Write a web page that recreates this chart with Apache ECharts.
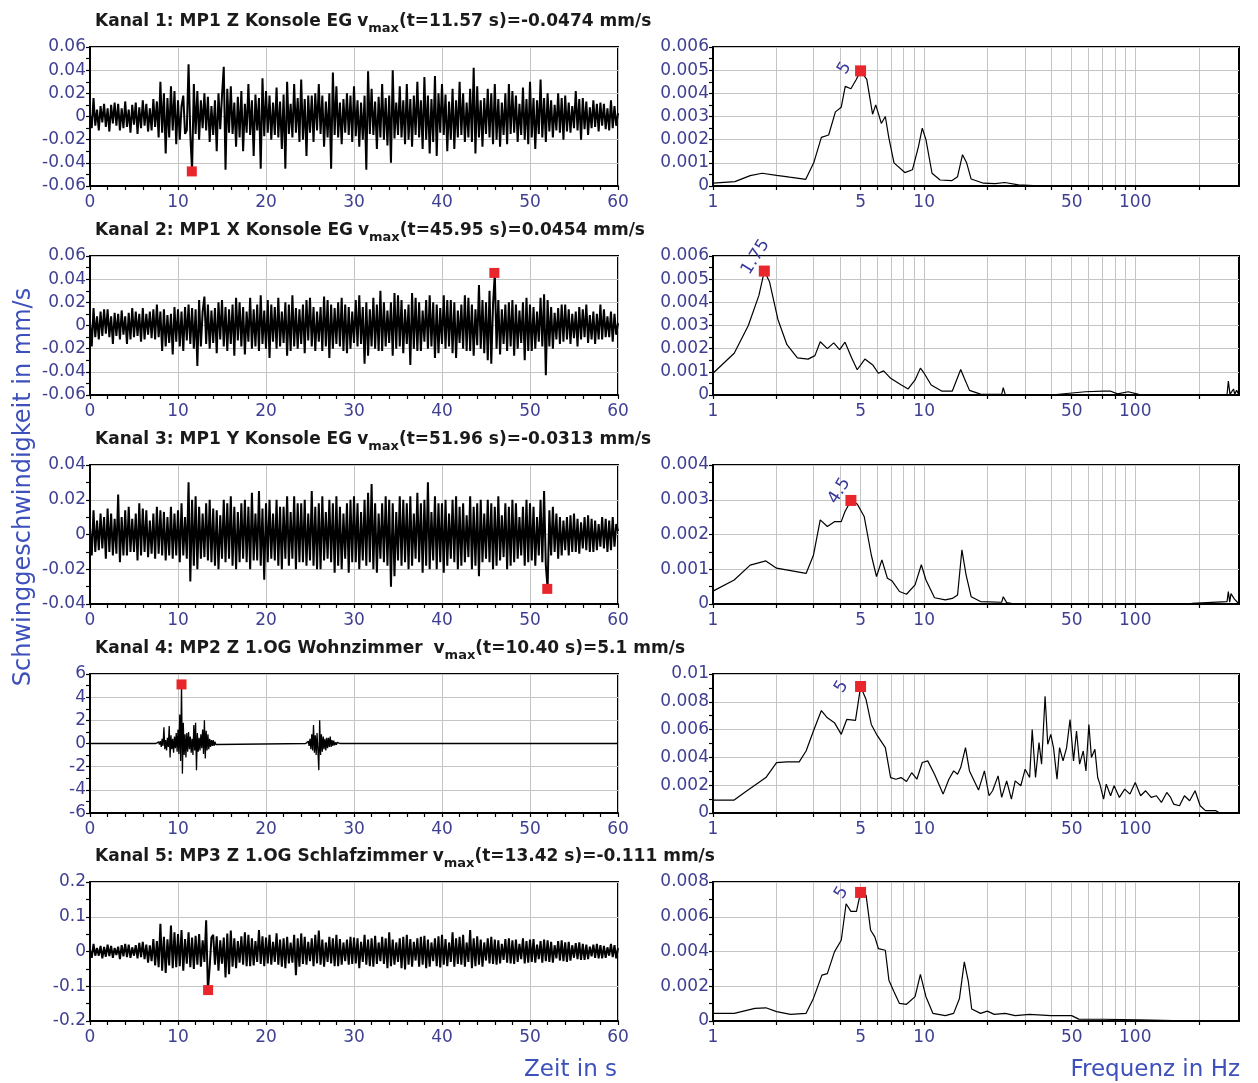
<!DOCTYPE html>
<html><head><meta charset="utf-8">
<script src="https://cdn.jsdelivr.net/npm/echarts@6/dist/echarts.min.js"></script>
<style>html,body{margin:0;padding:0;background:#fff}#c{width:1258px;height:1083px}</style>
</head><body><div id="c"></div>
<script>
// ---------- DATA ----------
const timeStep = 0.2; // s between samples of the time records (channels 1,2,3,5)
// Kanal 1 (µm/s), 5 samples per second, t = 0 … 60 s
const ch1_um = [2,-10,16,-8,6, -12,9,-5,11,-9, 7,-13,10,-6,12, -8,11,-12,7,-10, 13,-9,6,-14,10, -7,12,-15,8,-10, 14,-8,11,-13,7, -12,15,-9,13,-18, 30,-14,20,-32,16, -18,26,-12,22,-24, 14,-20,9,18,-15, -12,45,-16,-47,28, -15,22,-20,14,-10, 20,-12,17,-22,9, -16,14,-30,20,-11, 18,43,-46,24,-14, 26,-15,12,-26,17, -18,22,-30,11,-14, 28,-16,14,-34,19, -12,16,-45,33,-17, 22,-14,18,-20,12, -16,25,-18,13,-28, 19,-45,30,-15,11, -18,28,-14,16,-22, 32,-20,15,-34,18, -14,18,-22,20,-12, 28,-15,18,-26,13, -18,20,-45,38,-16, 26,-18,12,-24,15, -14,20,-16,18,-22, 26,-17,14,-26,12, -20,18,-46,39,-15, 24,-16,13,-28,17, -18,28,-20,16,-25, 18,-40,40,-19,12, -16,26,-18,14,-24, 28,-20,15,-26,18, -16,30,-18,14,-28, 34,-20,18,-32,15, -22,35,-34,20,-14, 28,-16,19,-30,13, -20,24,-28,14,-18, 30,-16,20,-22,12, -18,24,-22,42,-32, 26,-18,14,-26,16, -15,24,-18,20,-24, 28,-20,15,-26,12, -16,20,-24,28,-15, 22,-14,18,-22,11, -16,25,-20,15,-24, 30,-18,16,-28,14, -15,32,-18,16,-22, 20,-13,14,-18,10, -12,20,-14,16,-20, 18,-13,12,-14,9, -10,22,-12,15,-20, 16,-11,13,-16,8, -10,14,-9,11,-13, 12,-8,11,-11,7, -12,14,-10,9,-8, 3];
// Kanal 2 (µm/s)
const ch2_um = [3,-18,15,-10,8, -12,12,-9,14,-7, 14,-10,8,-16,11, -9,10,-12,13,-8, 8,-16,11,-12,15, -10,12,-9,10,-14, 15,-12,10,-8,12, -11,14,-12,18,-10, 12,-22,14,-18,9, -15,10,-25,16,-14, 14,-18,12,-22,16, -13,18,-16,15,-20, 14,-35,22,-18,12, 25,-16,18,-20,13, -15,15,-24,20,-12, 22,-18,16,-22,14, -16,18,-26,24,-13, 20,-18,16,-25,12, -14,24,-20,14,-18, 18,-22,26,-16,13, -20,22,-28,18,-14, 16,-20,24,-18,12, -15,20,-26,18,-22, 26,-18,15,-20,14, -16,18,-24,22,-13, 24,-18,16,-22,12, -14,16,-22,25,-18, 22,-28,18,-20,15, -16,20,-18,24,-22, 18,-24,16,-20,12, -15,22,-18,26,-16, 16,-33,20,-26,14, -18,24,-20,18,-22, 30,-22,20,-18,13, -15,20,-26,28,-20, 26,-18,22,-24,14, -16,18,-34,28,-20, 24,-22,20,-22,13, -14,22,-20,26,-18, 20,-28,18,-24,15, -16,26,-20,22,-18, 22,-24,20,-28,13, -15,18,-20,26,-22, 24,-22,18,-26,14, -17,35,-20,22,-24, 20,-30,30,-33,18, 45,-20,22,-25,14, -16,18,-22,20,-18, 22,-26,18,-20,13, -15,20,-30,24,-22, 18,-22,16,-20,12, -14,24,-18,27,-43, 22,-18,16,-20,11, -12,15,-16,18,-14, 18,-12,14,-16,10, -11,12,-18,16,-12, 14,-10,18,-15,9, -12,12,-16,10,-12, 18,-12,14,-10,8, -10,12,-14,10,-8, 2];
// Kanal 3 (µm/s)
const ch3_um = [4,-12,14,-10,8, -9,12,-8,10,-14, 15,-10,12,-12,9, -11,23,-16,10,-12, 14,-12,16,-10,9, -10,12,-15,18,-12, 15,-10,14,-13,8, -11,12,-14,16,-11, 14,-12,13,-15,10, -12,16,-14,12,-12, 14,-16,18,-12,10, -14,30,-27,20,-18, 22,-20,16,-14,12, -13,18,-15,20,-16, 15,-18,14,-20,11, -14,20,-16,18,-14, 22,-18,16,-20,13, -16,18,-14,20,-16, 16,-20,24,-15,12, -15,25,-18,15,-26, 18,-16,20,-14,12, -15,20,-18,16,-20, 16,-14,22,-18,13, -14,22,-20,18,-16, 18,-16,20,-18,12, -15,25,-18,16,-20, 18,-20,22,-15,13, -14,20,-16,18,-22, 22,-18,16,-20,12, -14,18,-22,20,-16, 22,-16,18,-20,13, -15,20,-18,24,-16, 29,-20,18,-22,12, -14,18,-16,22,-18, 20,-30,18,-24,13, -15,22,-18,20,-16, 18,-20,22,-18,12, -14,24,-16,18,-22, 20,-18,30,-20,13, -15,22,-20,18,-16, 18,-22,20,-18,12, -14,20,-16,22,-20, 16,-18,18,-16,11, -13,22,-20,16,-18, 18,-24,20,-16,12, -14,20,-16,18,-20, 16,-18,22,-15,11, -13,18,-20,16,-18, 20,-16,18,-14,10, -12,16,-18,20,-16, 18,-15,16,-18,10, -12,20,-16,25,-18, -31,14,-12,16,-10, 12,-14,10,-12,8, -9,10,-12,11,-10, 12,-10,9,-11,7, -8,10,-9,11,-10, 9,-10,8,-9,6, -7,10,-8,9,-10, 8,-9,10,-7,6, 2];
// Kanal 4 (mm/s): the record is zero except for two bursts sampled every 0.1 s
const ch4Step = 0.1;
const ch4Burst1Start = 7.5;
const ch4Burst1 = [0,0.1,-0.1,0.15,-0.1, 0.2,-0.3,0.4,-0.2,1.4,-0.5,0.3,-0.6,0.5,-0.3, 1.5,-1.2,0.7,-0.5,0.4,-0.8,0.6,-0.4,0.9,-0.7, 1.2,-0.9,2.5,-1.5,5.1,-2.6,1.8,-1.0,0.8,-1.2, 0.9,-0.7,1.0,-0.5,0.6,-0.8,0.4,-1.0,1.6,-0.6, 1.8,-2.3,0.9,-0.7,0.5,-0.6,0.8,-0.4,1.2,-0.9, 2.0,-1.3,1.1,-0.6,0.8,-0.5,0.4,-0.3,0.3,-0.2, 0.3,-0.2,0.15,-0.1,0.05,0];
const ch4Burst2Start = 24.5;
const ch4Burst2 = [0,0.1,-0.1,0.2,-0.2, 0.4,-0.5,0.8,-0.6,1.6,-0.8,0.7,-1.0,0.9,-0.6, -2.3,2.0,-1.0,0.8,-0.7,0.6,-0.5,0.4,-0.6,0.5, -0.4,0.5,-0.3,0.6,-0.3,0.3,-0.2,0.25,-0.15,0.1, -0.1,0.1,-0.05,0.05,0,0];
// Kanal 5 (µm/s)
const ch5_um = [5,-18,22,-12,10, -12,16,-20,13,-15, 20,-13,16,-18,10, -10,14,-22,18,-14, 22,-16,20,-18,12, -12,18,-20,25,-16, 28,-22,20,-32,18, -28,36,-40,30,-45, 80,-55,42,-62,35, -40,75,-48,55,-45, 50,-42,62,-55,36, -35,55,-45,40,-50, 45,-38,50,-44,32, -30,90,-111,-45,40, 48,-38,44,-55,32, -35,40,-75,52,-65, 60,-44,38,-48,30, -32,44,-38,55,-42, 48,-42,38,-40,30, -30,62,-36,44,-42, 40,-34,48,-38,28, -30,52,-38,34,-44, 38,-48,42,-34,26, -32,48,-68,38,-44, 52,-36,42,-38,28, -28,38,-42,48,-34, 60,-38,34,-44,26, -30,42,-34,38,-42, 48,-42,36,-38,26, -28,34,-38,42,-36, 40,-34,38,-48,28, -30,48,-38,34,-42, 38,-44,45,-36,26, -28,42,-36,38,-48, 55,-42,34,-38,26, -30,38,-48,42,-52, 48,-38,36,-44,28, -26,38,-44,42,-38, 45,-48,34,-44,26, -28,38,-42,44,-46, 48,-38,36,-42,26, -30,55,-44,38,-36, 42,-38,48,-44,26, -30,62,-48,38,-42, 44,-38,34,-44,26, -26,38,-34,42,-36, 34,-38,32,-34,22, -24,36,-32,38,-34, 32,-36,34,-30,22, -22,38,-34,30,-32, 34,-30,36,-32,20, -22,30,-32,34,-28, 32,-30,28,-32,18, -20,30,-26,32,-28, 26,-30,28,-26,18, -18,24,-22,26,-24, 22,-24,20,-22,14, -14,20,-18,22,-20, 18,-20,16,-18,12, -12,22,-16,18,-20, 10];

// vmax markers of the time records
const vmaxT = [11.57, 45.95, 51.96, 10.40, 13.42];
const vmaxV = [-0.0474, 0.0454, -0.0313, 5.1, -0.111];

// Spectra: frequency (Hz) and amplitude (mm/s)
const spF1 = [1,1.27,1.5,1.71,2.0,2.31,2.75,3.0,3.26,3.53,3.8,4.05,4.23,4.5,4.77,5.0,5.35,5.7,5.9,6.27,6.55,6.8,7.2,8.1,8.8,9.4,9.8,10.2,10.9,11.9,13.5,14.4,15.2,15.9,16.7,19.1,21.7,24.1,28,33,310];
const spA1 = [0.00012,0.00019,0.00045,0.00055,0.00046,0.00038,0.00029,0.001,0.0021,0.0022,0.0032,0.0034,0.0043,0.0042,0.0046,0.00497,0.0046,0.0031,0.0035,0.0027,0.003,0.0021,0.001,0.00058,0.0007,0.0017,0.0025,0.002,0.00055,0.00026,0.00023,0.0004,0.00135,0.001,0.0003,0.00012,0.0001,0.00015,0.00005,0.00002,0];
const spF2 = [1,1.26,1.47,1.65,1.75,1.85,2.03,2.24,2.51,2.82,3.04,3.22,3.48,3.73,3.98,4.22,4.54,4.82,5.24,5.73,6.07,6.43,6.94,7.8,8.4,9.06,9.6,10,10.8,12.1,13.6,14.9,15.5,16.4,18.5,23.3,23.7,24.2,39.8,58,70.7,76,82.5,92.6,104,272,276,281,292,296,302,310];
const spA2 = [0.00094,0.0018,0.003,0.0043,0.00535,0.0049,0.00326,0.00217,0.0016,0.00155,0.0017,0.0023,0.002,0.00225,0.00196,0.00228,0.0016,0.00109,0.00155,0.00128,0.00094,0.00104,0.00072,0.00043,0.00026,0.00065,0.00116,0.00094,0.00043,0.00017,0.00017,0.0011,0.00072,0.0002,0.00004,0.00003,0.00032,0.00003,0,0.00014,0.00017,0.00017,0.00005,0.00014,0.00003,0,0.0006,0.00003,0.00026,0.00003,0.0002,0];
const spF3 = [1,1.26,1.5,1.78,2.0,2.33,2.76,2.99,3.22,3.48,3.76,4.05,4.22,4.5,4.82,5.2,5.62,5.95,6.31,6.7,7.06,7.64,8.25,9.06,9.7,10.2,11.2,12.6,13.6,14.4,15.1,15.8,16.7,18.5,23.3,23.7,24.6,27,185,272,276,280,284,295,310];
const spA3 = [0.00037,0.00069,0.00112,0.00124,0.00103,0.00096,0.00088,0.0014,0.00242,0.00223,0.00237,0.00237,0.00266,0.00298,0.00288,0.00252,0.00141,0.00079,0.00127,0.00074,0.00066,0.00036,0.00028,0.00055,0.00113,0.00069,0.00018,0.00012,0.00016,0.00026,0.00156,0.00084,0.00021,0.00007,0.00005,0.00021,0.00004,0,0.00002,0.00007,0.00036,0.00005,0.0003,0.00014,0];
const spF4 = [1,1.26,1.41,1.78,2.0,2.24,2.56,2.76,2.99,3.26,3.48,3.76,4.05,4.30,4.73,4.91,5.0,5.31,5.62,5.95,6.55,6.94,7.35,7.78,8.25,8.73,9.24,9.8,10.4,11.2,12.3,13.1,13.8,14.4,14.9,15.7,16.4,18.1,19.3,20.3,21.1,22.4,23.3,24.6,25.9,27,28.7,30.1,31.6,32.5,33.7,35,36,37.4,38.5,39.8,41,42.6,43.8,45.5,47.3,49.1,51,52.7,54.5,56.7,58.4,60.3,62,64.4,66.4,68,70.8,72.9,76.4,79.4,84.1,89.1,94.4,100,106,112,119,126,133,141,147,152,162,171,181,192,203,215,241,251,310];
const spA4 = [0.00093,0.00093,0.00148,0.00255,0.00363,0.00368,0.00368,0.00446,0.0059,0.00737,0.00685,0.0065,0.00566,0.00673,0.00666,0.00828,0.0091,0.00816,0.00637,0.00566,0.0047,0.00255,0.00243,0.00255,0.00227,0.0029,0.00243,0.00363,0.00375,0.00279,0.00136,0.00243,0.00303,0.00279,0.00327,0.0047,0.00303,0.00165,0.00303,0.00124,0.0016,0.00267,0.00112,0.00231,0.001,0.00231,0.00196,0.00315,0.00255,0.006,0.00255,0.00506,0.00351,0.0084,0.00494,0.00566,0.0047,0.00243,0.0047,0.00375,0.0047,0.00673,0.00375,0.0059,0.00351,0.00446,0.00303,0.00637,0.004,0.00458,0.00255,0.00208,0.001,0.00208,0.00124,0.00196,0.00112,0.00172,0.00136,0.0022,0.00124,0.0016,0.00112,0.00124,0.00076,0.00148,0.00112,0.00064,0.00052,0.00124,0.00088,0.0016,0.00052,0.00017,0.00017,0,0];
const spF5 = [1,1.26,1.58,1.78,2.0,2.33,2.76,2.99,3.28,3.48,3.76,4.05,4.27,4.5,4.78,5.0,5.31,5.58,5.84,6.07,6.55,6.81,7.2,7.64,8.25,9.06,9.6,10.2,11,12.6,13.8,14.7,15.5,16.2,16.8,18.5,19.9,21.5,24.2,27,31.6,39.8,50,54,70.6,104,152,310];
const spA5 = [0.00044,0.00044,0.00073,0.00076,0.00054,0.00038,0.00044,0.0013,0.00264,0.00273,0.00398,0.00465,0.00675,0.00631,0.00631,0.0074,0.00723,0.00522,0.00484,0.00417,0.00407,0.00235,0.00168,0.00101,0.00096,0.0014,0.00268,0.0014,0.00044,0.00031,0.00044,0.0013,0.0034,0.00226,0.00069,0.00044,0.00057,0.00038,0.00044,0.00031,0.00038,0.00031,0.00031,0.00011,0.0001,0.00006,0.00002,0];

// spectrum peak markers
const peakF = [5, 1.75, 4.5, 5, 5];
const peakA = [0.00497, 0.00535, 0.00298, 0.0091, 0.0074];
const peakLabel = ['5', '1.75', '4.5', '5', '5'];

// titles
const chanNo = ['1','2','3','4','5'];
const chanName = ['MP1 Z Konsole EG','MP1 X Konsole EG','MP1 Y Konsole EG','MP2 Z 1.OG Wohnzimmer ','MP3 Z 1.OG Schlafzimmer'];
const vmaxTText = ['11.57','45.95','51.96','10.40','13.42'];
const vmaxVText = ['-0.0474','0.0454','-0.0313','5.1','-0.111'];

// axis ticks
const timeMin = 0, timeMax = 60, timeInterval = 10;
const leftYMax = [0.06, 0.06, 0.04, 6, 0.2];
const leftYInterval = [0.02, 0.02, 0.02, 2, 0.1];
const rightYMax = [0.006, 0.006, 0.004, 0.01, 0.008];
const rightYInterval = [0.001, 0.001, 0.001, 0.002, 0.002];
const freqMin = 1, freqMax = 310;
const freqGridTicks = [1,2,3,4,5,6,7,8,9,10,20,30,40,50,60,70,80,90,100,200];
const freqLabels = [1,5,10,50,100];

// ---------- CHART ----------
const FONT = 'DejaVu Sans';
const LBL = '#3f3f92';
const tops = [47, 256, 465, 674, 882];
const H = 139;
const peakLabelPos = [[-6, 12], [-6, 12], [-6, 12], [-9, 15], [-9, 15]];
const evenSeries = (arr, scale) => arr.map((v, i) => [i * timeStep, v / scale]);
const burst = (start, arr) => arr.map((v, i) => [start + i * ch4Step, v]);
const ch4Data = [[timeMin, 0]].concat(burst(ch4Burst1Start, ch4Burst1), burst(ch4Burst2Start, ch4Burst2), [[timeMax, 0]]);
const timeRecords = [evenSeries(ch1_um, 1000), evenSeries(ch2_um, 1000), evenSeries(ch3_um, 1000), ch4Data, evenSeries(ch5_um, 1000)];
const timeLineWidth = [2, 2, 2, 1.3, 2];
const spF = [spF1, spF2, spF3, spF4, spF5];
const spA = [spA1, spA2, spA3, spA4, spA5];

const grid = [], xAxis = [], yAxis = [], series = [], title = [];
const axisLine = { show: true, onZero: false, lineStyle: { color: '#000', width: 2 } };
const splitLine = { show: true, lineStyle: { color: '#c4c4c4', width: 1 } };
const tick = { show: true, length: 4, lineStyle: { color: '#000', width: 1.2 } };
const minor = n => ({ show: true, splitNumber: n, length: 4, lineStyle: { color: '#000', width: 1.2 } });
const label = { color: LBL, fontSize: 17, fontFamily: FONT, margin: 4 };

for (let r = 0; r < 5; r++) {
  grid.push({ left: 90, top: tops[r], width: 528, height: H, show: true, borderColor: '#000', borderWidth: 2, backgroundColor: '#fff' });
  grid.push({ left: 713, top: tops[r], width: 526, height: H, show: true, borderColor: '#000', borderWidth: 2, backgroundColor: '#fff' });
  // left: time record
  xAxis.push({ type: 'value', gridIndex: 2 * r, min: timeMin, max: timeMax, interval: timeInterval,
    axisLine, axisTick: tick, minorTick: minor(5), splitLine, axisLabel: Object.assign({}, label, { margin: 8 }) });
  yAxis.push({ type: 'value', gridIndex: 2 * r, min: -leftYMax[r], max: leftYMax[r], interval: leftYInterval[r],
    axisLine, axisTick: tick, minorTick: minor(2), splitLine, axisLabel: label });
  // right: spectrum
  xAxis.push({ type: 'log', logBase: 10, gridIndex: 2 * r + 1, min: freqMin, max: freqMax,
    axisLine, axisTick: Object.assign({}, tick, { customValues: freqGridTicks }),
    splitLine, axisLabel: Object.assign({}, label, { margin: 8, customValues: freqLabels }) });
  yAxis.push({ type: 'value', gridIndex: 2 * r + 1, min: 0, max: rightYMax[r], interval: rightYInterval[r],
    axisLine, axisTick: tick, minorTick: minor(2), splitLine, axisLabel: label });

  series.push({ type: 'line', xAxisIndex: 2 * r, yAxisIndex: 2 * r, showSymbol: false, silent: true,
    data: timeRecords[r], lineStyle: { color: '#000', width: timeLineWidth[r], join: 'bevel' }, z: 3 });
  series.push({ type: 'scatter', xAxisIndex: 2 * r, yAxisIndex: 2 * r, symbol: 'rect', symbolSize: 10, clip: false,
    data: [[vmaxT[r], vmaxV[r]]], itemStyle: { color: '#e8262b', opacity: 1 }, z: 5 });
  series.push({ type: 'line', xAxisIndex: 2 * r + 1, yAxisIndex: 2 * r + 1, showSymbol: false, silent: true,
    data: spF[r].map((f, i) => [f, spA[r][i]]), lineStyle: { color: '#000', width: 1.2 }, z: 3 });
  series.push({ type: 'scatter', xAxisIndex: 2 * r + 1, yAxisIndex: 2 * r + 1, symbol: 'rect', symbolSize: 11, clip: false,
    data: [[peakF[r], peakA[r]]], itemStyle: { color: '#e8262b', opacity: 1 }, z: 6,
    label: { show: true, formatter: peakLabel[r], position: peakLabelPos[r], rotate: 58, align: 'left', verticalAlign: 'bottom',
      color: '#3a3a9c', fontSize: 17, fontFamily: FONT } });

  title.push({ left: 90, top: tops[r] - 39,
    text: `{n|Kanal ${chanNo[r]}: }{b|${chanName[r]}} {n|v}{s|max}{n|(t=${vmaxTText[r]} s)=}{b|${vmaxVText[r]} mm/s}`,
    textStyle: { rich: {
      n: { fontFamily: FONT, fontSize: 17, color: '#1a1a1a', verticalAlign: 'top', lineHeight: 20 },
      b: { fontFamily: FONT, fontSize: 17, fontWeight: 'bold', color: '#1a1a1a', verticalAlign: 'top', lineHeight: 20 },
      s: { fontFamily: FONT, fontSize: 13, color: '#1a1a1a', verticalAlign: 'top', lineHeight: 14, padding: [9, 0, 0, 0] }
    } } });
}

const chart = echarts.init(document.getElementById('c'), null, { renderer: 'canvas' });
chart.setOption({
  animation: false,
  backgroundColor: '#fff',
  title, grid, xAxis, yAxis, series,
  graphic: [
    { type: 'text', x: 24, y: 487, rotation: Math.PI / 2,
      style: { text: 'Schwinggeschwindigkeit in mm/s', fill: '#3d50bb', font: '24px "DejaVu Sans"', align: 'center', verticalAlign: 'middle' } },
    { type: 'text', x: 617, y: 1070,
      style: { text: 'Zeit in s', fill: '#3d50bb', font: '23px "DejaVu Sans"', align: 'right', verticalAlign: 'middle' } },
    { type: 'text', x: 1240, y: 1070,
      style: { text: 'Frequenz in Hz', fill: '#3d50bb', font: '23px "DejaVu Sans"', align: 'right', verticalAlign: 'middle' } }
  ]
});
</script></body></html>
